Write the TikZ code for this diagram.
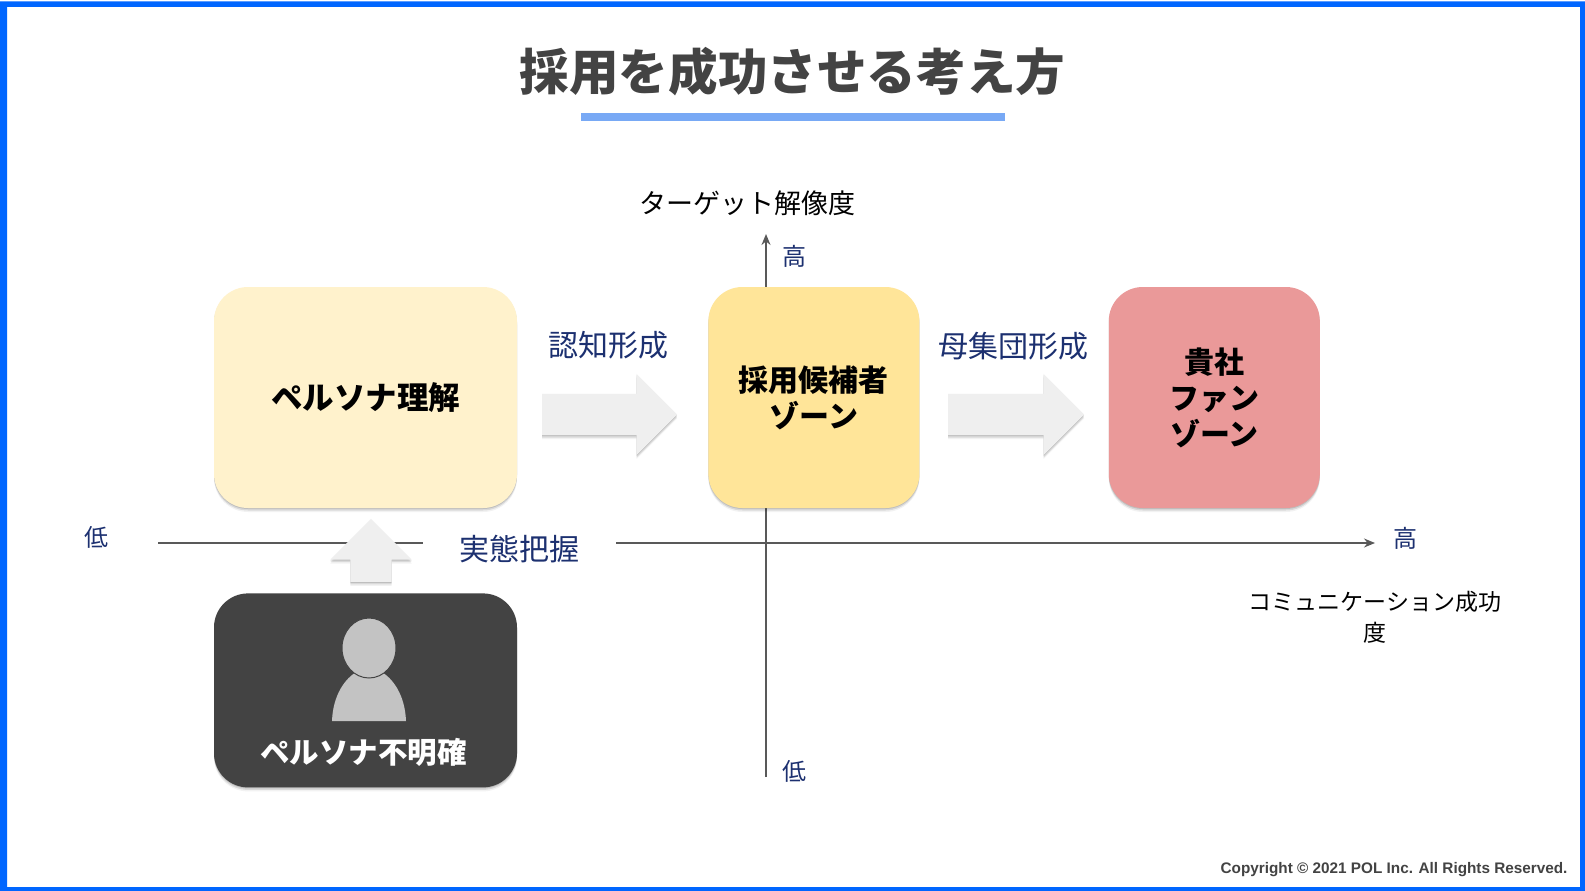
\documentclass[tikz,border=0pt]{standalone}
\usepackage{fontspec}
\setmainfont{Noto Sans CJK JP}
\newfontfamily\copyfont{Liberation Sans}
\usepackage{xcolor}
\usetikzlibrary{positioning,shapes.geometric,shapes.arrows,shadows,arrows.meta}
\definecolor{frameblue}{HTML}{0066FF}
\definecolor{rulecolor}{HTML}{78A9F5}
\definecolor{darkgrey}{HTML}{434343}
\definecolor{axisgrey}{HTML}{595959}
\definecolor{navy}{HTML}{1C3070}
\definecolor{paleyellow}{HTML}{FFF2CC}
\definecolor{midyellow}{HTML}{FFE599}
\definecolor{rosered}{HTML}{EA9999}
\definecolor{arrowgrey}{HTML}{EFEFEF}
\definecolor{persongrey}{HTML}{C3C3C3}

\begin{document}
\begin{tikzpicture}[x=1pt,y=-1pt,node distance=85pt,
	softshadow/.style={drop shadow={shadow xshift=0pt,shadow yshift=-4pt,opacity=.05,fill=black},
		drop shadow={shadow xshift=0pt,shadow yshift=-2.5pt,opacity=.1,fill=black},
		drop shadow={shadow xshift=0pt,shadow yshift=-1pt,opacity=.12,fill=black}},
	zonebox/.style={rounded corners=34pt,minimum height=221pt,align=center,softshadow,font=\fontsize{30}{36}\selectfont\bfseries},
	flowarrow/.style={single arrow,fill=arrowgrey,single arrow head extend=20pt,minimum width=81pt,softshadow},
	axisline/.style={draw=axisgrey,line width=1.5pt,-{Stealth[length=11pt,width=9pt]}},
	scalelabel/.style={text=navy,font=\fontsize{24}{28}\selectfont},
	flowlabel/.style={text=navy,font=\fontsize{30}{36}\selectfont},
	axistitle/.style={align=center,font=\fontsize{23}{31}\selectfont}]
	\useasboundingbox (0,0) rectangle (1585,891);
	\fill[white] (0,0) rectangle (1585,891);
	\fill[frameblue,even odd rule] (0,1.5) rectangle (1585,891) (7,7) rectangle (1580,887);

	% title
	\node[text=darkgrey,font=\fontsize{49.6}{60}\selectfont\bfseries] (title) at (792.5,72) {採用を成功させる考え方};
	\fill[rulecolor] (581,113) rectangle (1005,121);

	% axes
	\coordinate (xlow) at (158,543);
	\coordinate (xhigh) at (1375,543);
	\coordinate (ylow) at (766,777);
	\coordinate (yhigh) at (766,234);
	\draw[axisline] (xlow) -- (xhigh);
	\draw[axisline] (ylow) -- (yhigh);

	% zones
	\node[zonebox,fill=paleyellow,minimum width=303pt,font=\fontsize{31.5}{36}\selectfont\bfseries] (persona) at (365.5,397.5) {\raisebox{-2pt}{ペルソナ理解}};
	\node[zonebox,fill=midyellow,minimum width=211pt,right=191pt of persona] (candidate) {採用候補者\\ゾーン};
	\node[zonebox,fill=rosered,minimum width=211pt,right=189pt of candidate] (fan) {貴社\\ファン\\ゾーン};
	\node[zonebox,fill=darkgrey,minimum width=303pt,minimum height=194pt,below=of persona] (unclear) {};

	% person
	\fill[persongrey] (332,721) .. controls (333,695) and (345,678) .. (358,671) -- (380,671) .. controls (393,678) and (405,695) .. (406,721) -- cycle;
	\node[ellipse,fill=persongrey,draw=darkgrey,line width=1pt,minimum width=54pt,minimum height=60pt,inner sep=0pt] (head) at (369,648) {};
	\node[text=white,font=\fontsize{29.5}{36}\selectfont\bfseries] (unclearlabel) at (363.5,752) {ペルソナ不明確};

	% flow arrows
	\node[flowarrow,inner xsep=0pt,inner ysep=20.5pt,minimum height=135pt,anchor=tail] (aware) at (542,414.5) {};
	\node[flowarrow,inner xsep=0pt,inner ysep=20.5pt,minimum height=136pt,anchor=tail] (gather) at (948,414.5) {};
	\node[flowarrow,inner xsep=20.5pt,inner ysep=0pt,minimum height=63pt,shape border rotate=90,anchor=tail] (grasp) at (371,582) {};

	% labels
	\node[flowlabel] (awarelabel) at (608,345) {認知形成};
	\node[flowlabel] (gatherlabel) at (1013,346) {母集団形成};
	\node[flowlabel,fill=white,minimum width=193pt,inner sep=0pt] (grasplabel) at (519.5,549) {実態把握};
	\node[scalelabel] (lowx) at (96,537) {低};
	\node[scalelabel] (highx) at (1405,538) {高};
	\node[scalelabel] (highy) at (794,256) {高};
	\node[scalelabel] (lowy) at (794,771) {低};
	\node[axistitle,font=\fontsize{27}{32}\selectfont] (ytitle) at (747,203) {ターゲット解像度};
	\node[axistitle] (xtitle) at (1375,617) {コミュニケーション成功\\度};
	\node[text=darkgrey,anchor=east,font=\fontsize{15.3}{18}\selectfont\copyfont\bfseries] (copy) at (1571,870) {Copyright © 2021 POL Inc. All Rights Reserved.};
\end{tikzpicture}
\end{document}
